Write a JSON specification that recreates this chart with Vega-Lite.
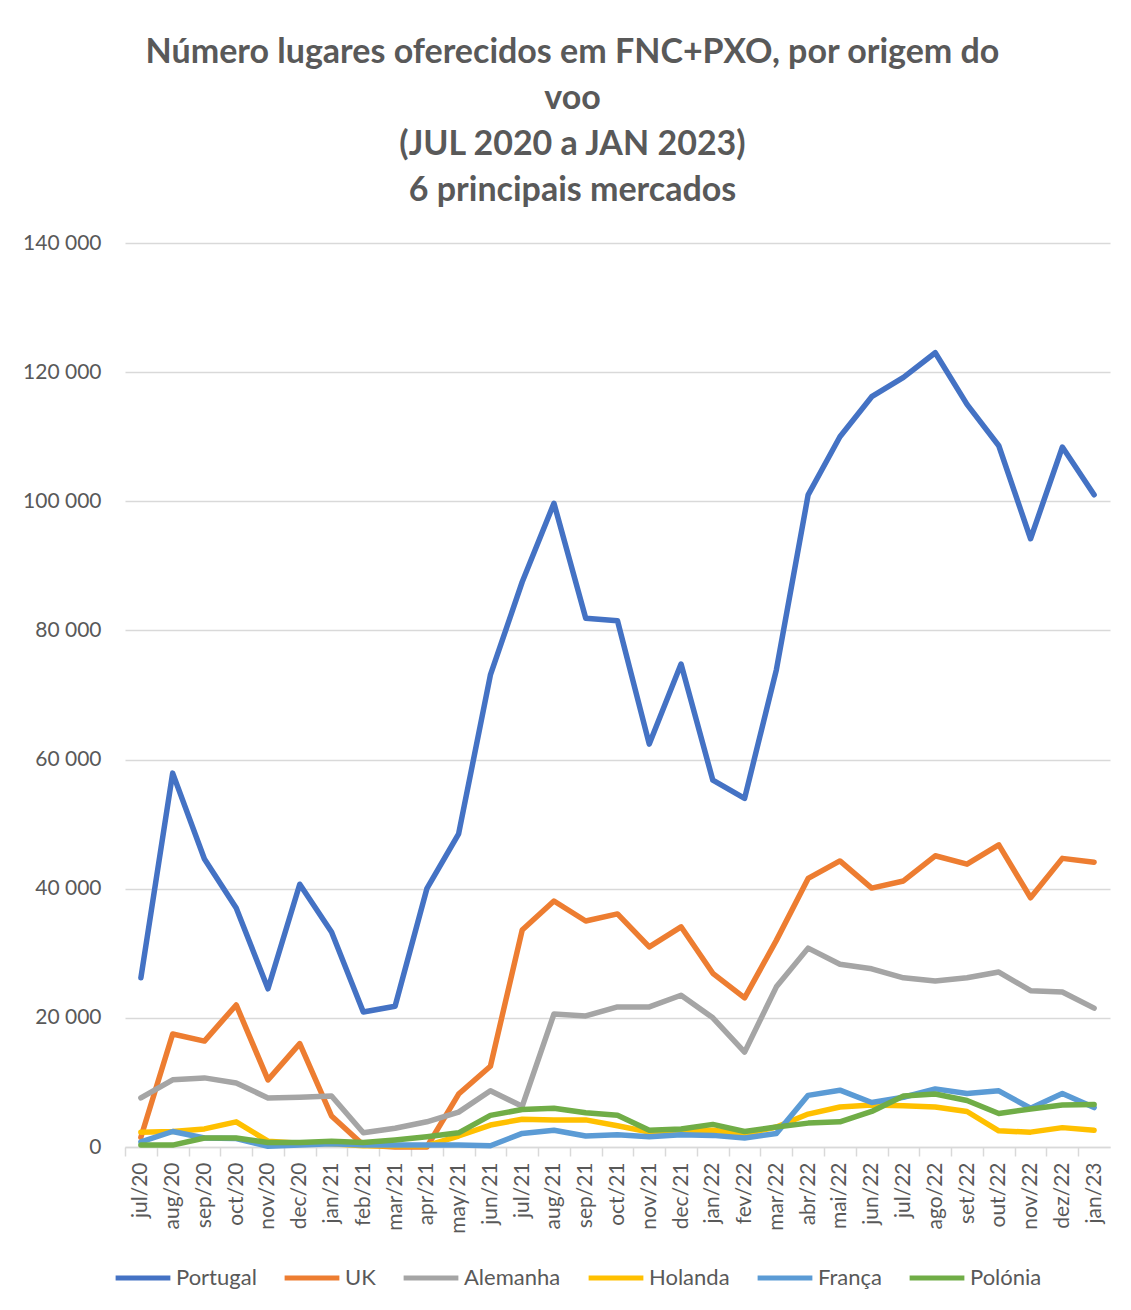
{
  "$schema": "https://vega.github.io/schema/vega-lite/v6.json",
  "autosize": "none",
  "width": 985,
  "height": 904,
  "padding": {"left": 125, "top": 243, "right": 21, "bottom": 163},
  "background": "white",
  "title": {
    "text": ["Número lugares oferecidos em FNC+PXO, por origem do", "voo", "(JUL 2020 a JAN 2023)", "6 principais mercados"],
    "font": "Lato",
    "fontSize": 34,
    "fontWeight": "bold",
    "color": "#595959",
    "lineHeight": 46,
    "anchor": "middle",
    "frame": "group",
    "dx": -45,
    "offset": 24
  },
  "data": {
    "values": [
      {"m":"jul/20","s":"Portugal","v":26200},{"m":"aug/20","s":"Portugal","v":57900},{"m":"sep/20","s":"Portugal","v":44600},{"m":"oct/20","s":"Portugal","v":37000},{"m":"nov/20","s":"Portugal","v":24500},{"m":"dec/20","s":"Portugal","v":40700},{"m":"jan/21","s":"Portugal","v":33300},{"m":"feb/21","s":"Portugal","v":20900},{"m":"mar/21","s":"Portugal","v":21800},{"m":"apr/21","s":"Portugal","v":40000},{"m":"may/21","s":"Portugal","v":48500},{"m":"jun/21","s":"Portugal","v":73100},{"m":"jul/21","s":"Portugal","v":87500},{"m":"aug/21","s":"Portugal","v":99700},{"m":"sep/21","s":"Portugal","v":81900},{"m":"oct/21","s":"Portugal","v":81500},{"m":"nov/21","s":"Portugal","v":62400},{"m":"dec/21","s":"Portugal","v":74800},{"m":"jan/22","s":"Portugal","v":56800},{"m":"fev/22","s":"Portugal","v":54000},{"m":"mar/22","s":"Portugal","v":73900},{"m":"abr/22","s":"Portugal","v":101000},{"m":"mai/22","s":"Portugal","v":110000},{"m":"jun/22","s":"Portugal","v":116200},{"m":"jul/22","s":"Portugal","v":119200},{"m":"ago/22","s":"Portugal","v":123000},{"m":"set/22","s":"Portugal","v":115000},{"m":"out/22","s":"Portugal","v":108600},{"m":"nov/22","s":"Portugal","v":94200},{"m":"dez/22","s":"Portugal","v":108400},{"m":"jan/23","s":"Portugal","v":101000},
      {"m":"jul/20","s":"UK","v":1500},{"m":"aug/20","s":"UK","v":17500},{"m":"sep/20","s":"UK","v":16400},{"m":"oct/20","s":"UK","v":22000},{"m":"nov/20","s":"UK","v":10400},{"m":"dec/20","s":"UK","v":16000},{"m":"jan/21","s":"UK","v":4800},{"m":"feb/21","s":"UK","v":300},{"m":"mar/21","s":"UK","v":0},{"m":"apr/21","s":"UK","v":0},{"m":"may/21","s":"UK","v":8200},{"m":"jun/21","s":"UK","v":12500},{"m":"jul/21","s":"UK","v":33600},{"m":"aug/21","s":"UK","v":38100},{"m":"sep/21","s":"UK","v":35000},{"m":"oct/21","s":"UK","v":36100},{"m":"nov/21","s":"UK","v":31000},{"m":"dec/21","s":"UK","v":34100},{"m":"jan/22","s":"UK","v":26900},{"m":"fev/22","s":"UK","v":23100},{"m":"mar/22","s":"UK","v":32000},{"m":"abr/22","s":"UK","v":41600},{"m":"mai/22","s":"UK","v":44300},{"m":"jun/22","s":"UK","v":40100},{"m":"jul/22","s":"UK","v":41200},{"m":"ago/22","s":"UK","v":45100},{"m":"set/22","s":"UK","v":43800},{"m":"out/22","s":"UK","v":46800},{"m":"nov/22","s":"UK","v":38600},{"m":"dez/22","s":"UK","v":44700},{"m":"jan/23","s":"UK","v":44100},
      {"m":"jul/20","s":"Alemanha","v":7600},{"m":"aug/20","s":"Alemanha","v":10400},{"m":"sep/20","s":"Alemanha","v":10700},{"m":"oct/20","s":"Alemanha","v":9900},{"m":"nov/20","s":"Alemanha","v":7600},{"m":"dec/20","s":"Alemanha","v":7700},{"m":"jan/21","s":"Alemanha","v":7900},{"m":"feb/21","s":"Alemanha","v":2200},{"m":"mar/21","s":"Alemanha","v":2900},{"m":"apr/21","s":"Alemanha","v":3900},{"m":"may/21","s":"Alemanha","v":5400},{"m":"jun/21","s":"Alemanha","v":8700},{"m":"jul/21","s":"Alemanha","v":6300},{"m":"aug/21","s":"Alemanha","v":20600},{"m":"sep/21","s":"Alemanha","v":20300},{"m":"oct/21","s":"Alemanha","v":21700},{"m":"nov/21","s":"Alemanha","v":21700},{"m":"dec/21","s":"Alemanha","v":23500},{"m":"jan/22","s":"Alemanha","v":20000},{"m":"fev/22","s":"Alemanha","v":14700},{"m":"mar/22","s":"Alemanha","v":24800},{"m":"abr/22","s":"Alemanha","v":30800},{"m":"mai/22","s":"Alemanha","v":28300},{"m":"jun/22","s":"Alemanha","v":27600},{"m":"jul/22","s":"Alemanha","v":26200},{"m":"ago/22","s":"Alemanha","v":25700},{"m":"set/22","s":"Alemanha","v":26200},{"m":"out/22","s":"Alemanha","v":27100},{"m":"nov/22","s":"Alemanha","v":24200},{"m":"dez/22","s":"Alemanha","v":24000},{"m":"jan/23","s":"Alemanha","v":21500},
      {"m":"jul/20","s":"Holanda","v":2300},{"m":"aug/20","s":"Holanda","v":2400},{"m":"sep/20","s":"Holanda","v":2800},{"m":"oct/20","s":"Holanda","v":3900},{"m":"nov/20","s":"Holanda","v":900},{"m":"dec/20","s":"Holanda","v":600},{"m":"jan/21","s":"Holanda","v":500},{"m":"feb/21","s":"Holanda","v":200},{"m":"mar/21","s":"Holanda","v":200},{"m":"apr/21","s":"Holanda","v":200},{"m":"may/21","s":"Holanda","v":1700},{"m":"jun/21","s":"Holanda","v":3400},{"m":"jul/21","s":"Holanda","v":4300},{"m":"aug/21","s":"Holanda","v":4200},{"m":"sep/21","s":"Holanda","v":4200},{"m":"oct/21","s":"Holanda","v":3300},{"m":"nov/21","s":"Holanda","v":2300},{"m":"dec/21","s":"Holanda","v":2600},{"m":"jan/22","s":"Holanda","v":2600},{"m":"fev/22","s":"Holanda","v":2000},{"m":"mar/22","s":"Holanda","v":3100},{"m":"abr/22","s":"Holanda","v":5100},{"m":"mai/22","s":"Holanda","v":6200},{"m":"jun/22","s":"Holanda","v":6500},{"m":"jul/22","s":"Holanda","v":6400},{"m":"ago/22","s":"Holanda","v":6200},{"m":"set/22","s":"Holanda","v":5500},{"m":"out/22","s":"Holanda","v":2500},{"m":"nov/22","s":"Holanda","v":2300},{"m":"dez/22","s":"Holanda","v":3000},{"m":"jan/23","s":"Holanda","v":2600},
      {"m":"jul/20","s":"França","v":800},{"m":"aug/20","s":"França","v":2400},{"m":"sep/20","s":"França","v":1400},{"m":"oct/20","s":"França","v":1300},{"m":"nov/20","s":"França","v":100},{"m":"dec/20","s":"França","v":300},{"m":"jan/21","s":"França","v":500},{"m":"feb/21","s":"França","v":300},{"m":"mar/21","s":"França","v":300},{"m":"apr/21","s":"França","v":300},{"m":"may/21","s":"França","v":300},{"m":"jun/21","s":"França","v":200},{"m":"jul/21","s":"França","v":2100},{"m":"aug/21","s":"França","v":2600},{"m":"sep/21","s":"França","v":1700},{"m":"oct/21","s":"França","v":1900},{"m":"nov/21","s":"França","v":1600},{"m":"dec/21","s":"França","v":1900},{"m":"jan/22","s":"França","v":1800},{"m":"fev/22","s":"França","v":1400},{"m":"mar/22","s":"França","v":2100},{"m":"abr/22","s":"França","v":8000},{"m":"mai/22","s":"França","v":8800},{"m":"jun/22","s":"França","v":6900},{"m":"jul/22","s":"França","v":7700},{"m":"ago/22","s":"França","v":9000},{"m":"set/22","s":"França","v":8300},{"m":"out/22","s":"França","v":8700},{"m":"nov/22","s":"França","v":6000},{"m":"dez/22","s":"França","v":8300},{"m":"jan/23","s":"França","v":6100},
      {"m":"jul/20","s":"Polónia","v":300},{"m":"aug/20","s":"Polónia","v":300},{"m":"sep/20","s":"Polónia","v":1400},{"m":"oct/20","s":"Polónia","v":1400},{"m":"nov/20","s":"Polónia","v":700},{"m":"dec/20","s":"Polónia","v":700},{"m":"jan/21","s":"Polónia","v":900},{"m":"feb/21","s":"Polónia","v":700},{"m":"mar/21","s":"Polónia","v":1100},{"m":"apr/21","s":"Polónia","v":1600},{"m":"may/21","s":"Polónia","v":2200},{"m":"jun/21","s":"Polónia","v":4900},{"m":"jul/21","s":"Polónia","v":5800},{"m":"aug/21","s":"Polónia","v":6000},{"m":"sep/21","s":"Polónia","v":5300},{"m":"oct/21","s":"Polónia","v":4900},{"m":"nov/21","s":"Polónia","v":2600},{"m":"dec/21","s":"Polónia","v":2800},{"m":"jan/22","s":"Polónia","v":3500},{"m":"fev/22","s":"Polónia","v":2400},{"m":"mar/22","s":"Polónia","v":3100},{"m":"abr/22","s":"Polónia","v":3700},{"m":"mai/22","s":"Polónia","v":3900},{"m":"jun/22","s":"Polónia","v":5500},{"m":"jul/22","s":"Polónia","v":7900},{"m":"ago/22","s":"Polónia","v":8200},{"m":"set/22","s":"Polónia","v":7200},{"m":"out/22","s":"Polónia","v":5200},{"m":"nov/22","s":"Polónia","v":5900},{"m":"dez/22","s":"Polónia","v":6500},{"m":"jan/23","s":"Polónia","v":6600}
    ]
  },
  "mark": {"type": "line", "strokeWidth": 5.5, "strokeCap": "round", "strokeJoin": "round"},
  "encoding": {
    "x": {
      "field": "m",
      "type": "ordinal",
      "scale": {
        "type": "band",
        "paddingInner": 0,
        "paddingOuter": 0,
        "domain": ["jul/20","aug/20","sep/20","oct/20","nov/20","dec/20","jan/21","feb/21","mar/21","apr/21","may/21","jun/21","jul/21","aug/21","sep/21","oct/21","nov/21","dec/21","jan/22","fev/22","mar/22","abr/22","mai/22","jun/22","jul/22","ago/22","set/22","out/22","nov/22","dez/22","jan/23"]
      },
      "axis": {
        "title": null,
        "labelAngle": -90,
        "labelFont": "Lato",
        "labelFontSize": 21,
        "labelColor": "#595959",
        "labelPadding": 6,
        "labelOffset": 15.9,
        "domainColor": "#d9d9d9",
        "domainWidth": 1.5,
        "tickColor": "#d9d9d9",
        "tickWidth": 1.5,
        "tickSize": 9,
        "tickOffset": -15.9,
        "grid": false
      }
    },
    "y": {
      "field": "v",
      "type": "quantitative",
      "scale": {"domain": [0, 140000], "nice": false},
      "axis": {
        "title": null,
        "values": [0, 20000, 40000, 60000, 80000, 100000, 120000, 140000],
        "labelExpr": "replace(format(datum.value, ','), ',', ' ')",
        "labelFont": "Lato",
        "labelFontSize": 21,
        "labelColor": "#595959",
        "labelPadding": 24,
        "domain": false,
        "ticks": false,
        "grid": true,
        "gridColor": "#d9d9d9",
        "gridWidth": 1.5
      }
    },
    "color": {
      "field": "s",
      "type": "nominal",
      "scale": {
        "domain": ["Portugal", "UK", "Alemanha", "Holanda", "França", "Polónia"],
        "range": ["#4472C4", "#ED7D31", "#A5A5A5", "#FFC000", "#5B9BD5", "#70AD47"]
      },
      "legend": {
        "title": null,
        "orient": "none",
        "direction": "horizontal",
        "legendX": -12,
        "legendY": 1005,
        "symbolType": "stroke",
        "symbolSize": 3000,
        "symbolStrokeWidth": 5,
        "labelFont": "Lato",
        "labelFontSize": 22,
        "labelColor": "#595959",
        "labelOffset": 3,
        "columnPadding": 17
      }
    }
  },
  "config": {"view": {"stroke": null}}
}
